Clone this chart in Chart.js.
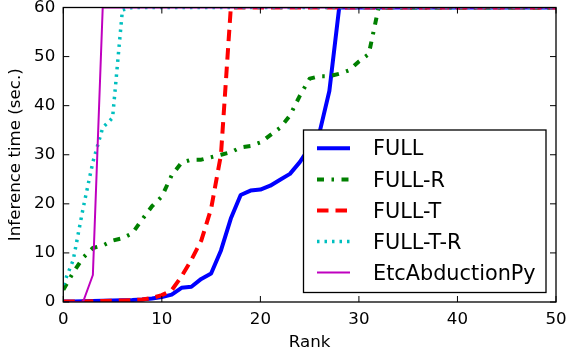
<!DOCTYPE html>
<html><head><meta charset="utf-8">
<script src="https://cdn.jsdelivr.net/npm/chart.js@4/dist/chart.umd.min.js"></script>
<style>html,body{margin:0;padding:0;background:#fff}#wrap{width:568px;height:356px}</style>
</head><body><div id="wrap"><canvas id="c" width="568" height="356"></canvas></div>
<script>
const ranks = [0,1,2,3,4,5,6,7,8,9,10,11,12,13,14,15,16,17,18,19,20,21,22,23,24,25,26,27,28,29,30,31,32,33,34,35,36,37,38,39,40,41,42,43,44,45,46,47,48,49,50];
const xTicks = [0,10,20,30,40,50];
const yTicks = [0,10,20,30,40,50,60];
const seriesNames = ['FULL','FULL-R','FULL-T','FULL-T-R','EtcAbductionPy'];
const full =    [0.1,0.1,0.15,0.2,0.25,0.3,0.35,0.4,0.5,0.7,1.0,1.5,2.9,3.1,4.7,5.8,10.5,17,21.8,22.7,22.9,23.7,24.9,26.1,28.5,31.5,34.5,43,60,60,60,60,60,60,60,60,60,60,60,60,60,60,60,60,60,60,60,60,60,60,60];
const fullR =   [2.5,6,9,11,11.5,12.5,13,14,16.8,19.5,21.5,25.8,28.4,29,29,29.5,30,30.5,31.5,31.8,32.5,34,35.5,38,42,45.5,46,46,46.5,47.2,49,50.5,60,60,60,60,60,60,60,60,60,60,60,60,60,60,60,60,60,60,60];
const fullT =   [0.1,0.1,0.1,0.15,0.2,0.25,0.3,0.4,0.5,0.8,1.4,2.4,5.2,8.6,12.5,19,30,60,60,60,60,60,60,60,60,60,60,60,60,60,60,60,60,60,60,60,60,60,60,60,60,60,60,60,60,60,60,60,60,60,60];
const fullTR =  [3.5,8.5,19,28.5,35.5,37.5,59.5,60,60,60,60,60,60,60,60,60,60,60,60,60,60,60,60,60,60,60,60,60,60,60,60,60,60,60,60,60,60,60,60,60,60,60,60,60,60,60,60,60,60,60,60];
const etc =     [0,0,0,5.5,60,60,60,60,60,60,60,60,60,60,60,60,60,60,60,60,60,60,60,60,60,60,60,60,60,60,60,60,60,60,60,60,60,60,60,60,60,60,60,60,60,60,60,60,60,60,60];

const FONT = "'DejaVu Sans', sans-serif";
const pts = arr => ranks.map((r,i)=>({x:r,y:arr[i]}));

const styles = [
  {color:'#0000ff', width:4, dash:[]},
  {color:'#008000', width:4, dash:[7,7.5,2.5,7.5]},
  {color:'#ff0000', width:4, dash:[11.5,7]},
  {color:'#00bfbf', width:3.5, dash:[2.5,5]},
  {color:'#bf00bf', width:2, dash:[]}
];
const allData = [full, fullR, fullT, fullTR, etc];

const datasets = allData.map((d,i)=>({
  label: seriesNames[i],
  data: pts(d),
  borderColor: styles[i].color,
  backgroundColor: styles[i].color,
  borderWidth: styles[i].width,
  borderDash: styles[i].dash,
  borderCapStyle: 'butt',
  borderJoinStyle: 'round',
  pointRadius: 0,
  tension: 0,
  fill: false,
  clip: 0,
  order: 5 - i
}));

const framePlugin = {
  id: 'frame',
  afterDatasetsDraw(chart) {
    const {ctx, chartArea: a, scales} = chart;
    ctx.save();
    ctx.strokeStyle = '#000';
    ctx.lineWidth = 1;
    const tl = 6;
    ctx.beginPath();
    xTicks.forEach(v => {
      const x = scales.x.getPixelForValue(v);
      ctx.moveTo(x, a.bottom); ctx.lineTo(x, a.bottom - tl);
      ctx.moveTo(x, a.top); ctx.lineTo(x, a.top + tl);
    });
    yTicks.forEach(v => {
      const y = scales.y.getPixelForValue(v);
      ctx.moveTo(a.left, y); ctx.lineTo(a.left + tl, y);
      ctx.moveTo(a.right, y); ctx.lineTo(a.right - tl, y);
    });
    ctx.stroke();
    ctx.lineWidth = 1.3;
    ctx.strokeRect(a.left, a.top, a.right - a.left, a.bottom - a.top);

    // legend
    const bx = 303.5, by = 130, bw = 242.5, bh = 162.5;
    ctx.fillStyle = '#fff';
    ctx.fillRect(bx, by, bw, bh);
    ctx.lineWidth = 1.3;
    ctx.strokeRect(bx, by, bw, bh);
    const rows = [148.3, 179.5, 210.6, 241.6, 272.5];
    ctx.font = '20.8px ' + FONT;
    ctx.textBaseline = 'alphabetic';
    ctx.textAlign = 'left';
    chart.data.datasets.forEach((ds, i) => {
      const y = rows[i];
      ctx.save();
      ctx.strokeStyle = ds.borderColor;
      ctx.lineWidth = ds.borderWidth;
      ctx.setLineDash(ds.borderDash);
      ctx.lineCap = 'butt';
      ctx.beginPath();
      ctx.moveTo(317, y); ctx.lineTo(350, y);
      ctx.stroke();
      ctx.restore();
      ctx.fillStyle = '#000';
      ctx.fillText(ds.label, 373, y + 7);
    });
    ctx.restore();
  }
};

new Chart(document.getElementById('c'), {
  type: 'line',
  data: { datasets },
  options: {
    responsive: false,
    animation: false,
    devicePixelRatio: 1,
    layout: { padding: { left: 0, top: 7.5, right: 12, bottom: 0 } },
    plugins: { legend: { display: false }, tooltip: { enabled: false } },
    scales: {
      x: {
        type: 'linear', min: 0, max: 50,
        afterBuildTicks: s => { s.ticks = xTicks.map(v => ({value: v})); },
        afterFit: s => { s.height = 54; s.paddingLeft = 0; s.paddingRight = 0; },
        grid: { display: false, drawTicks: false },
        border: { display: false },
        ticks: { color: '#000', padding: 7.5, maxRotation: 0, font: { family: FONT, size: 16.67 } },
        title: { display: true, text: 'Rank', color: '#000', padding: { top: 0, bottom: 3 }, font: { family: FONT, size: 16.67 } }
      },
      y: {
        type: 'linear', min: 0, max: 60,
        afterBuildTicks: s => { s.ticks = yTicks.map(v => ({value: v})); },
        afterFit: s => { s.width = 63.3; s.paddingTop = 0; s.paddingBottom = 0; },
        grid: { display: false, drawTicks: false },
        border: { display: false },
        ticks: { color: '#000', padding: 8, font: { family: FONT, size: 16.67 } },
        title: { display: true, text: 'Inference time (sec.)', color: '#000', padding: { top: 5.5, bottom: 0 }, font: { family: FONT, size: 16.67 } }
      }
    }
  },
  plugins: [framePlugin]
});
</script>
</body></html>
